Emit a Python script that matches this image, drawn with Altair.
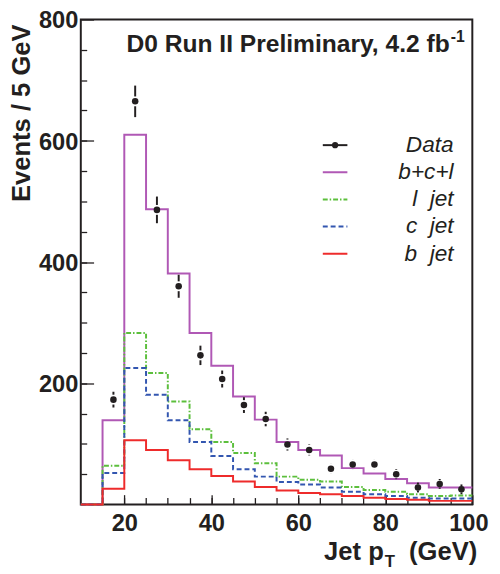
import altair as alt
import pandas as pd

# ---------------- data ----------------
bin_edges = [10, 15, 20, 25, 30, 35, 40, 45, 50, 55, 60, 65, 70, 75, 80, 85, 90, 95, 100]
bcl_vals = [0, 139, 610, 487, 381, 283, 229, 178, 140, 103, 90, 81, 60, 51, 42, 35, 28, 28]
ljet_vals = [0, 64, 283, 217, 170, 124, 103, 85, 68, 46, 41, 38, 29, 24, 21, 17, 14, 15]
cjet_vals = [0, 52, 225, 181, 139, 103, 80, 58, 46, 37, 33, 28, 21, 17, 14, 11, 10, 10]
bjet_vals = [0, 26, 106, 90, 73, 58, 47, 38, 29, 23, 19, 17, 14, 11, 9, 8, 6, 6]

data_x = [17.5, 22.5, 27.5, 32.5, 37.5, 42.5, 47.5, 52.5, 57.5, 62.5, 67.5,
          72.5, 77.5, 82.5, 87.5, 92.5, 97.5]
data_y = [173, 665, 486, 360, 246, 207, 164, 141, 99, 90, 59, 66, 66, 50, 28, 34, 25]
data_err = [13, 26, 22, 19, 16, 14, 13, 12, 10, 9, 8, 8, 8, 7, 5, 6, 5]

NB = "\u00a0"
series_names = ["b+c+l", "l jet", "c jet", "b jet"]
legend_labels = ["Data", "b+c+l", "l" + NB + " jet", "c" + NB + " jet", "b" + NB + " jet"]

x_major = [20, 40, 60, 80, 100]
x_minor = list(range(15, 100, 5))
y_major = [200, 400, 600, 800]
y_minor = list(range(50, 800, 50))

# ---------------- styles ----------------
FONT = "Liberation Sans"
INK = "#231f20"
series_colors = ["#b058b5", "#5cbf3c", "#3356b0", "#ee2b2b"]
series_dash = [[1, 0], [5, 2, 1.5, 2], [5, 3], [1, 0]]

# ---------------- tables ----------------
series_values = [bcl_vals, ljet_vals, cjet_vals, bjet_vals]
rows = []
for name, vals in zip(series_names, series_values):
    ys = list(vals) + [vals[-1]]
    for e, v in zip(bin_edges, ys):
        rows.append({"series": name, "x": e, "y": v})
hist = pd.DataFrame(rows)

pts = pd.DataFrame({
    "x": data_x,
    "y": data_y,
    "hi": [y + e for y, e in zip(data_y, data_err)],
    "lo": [y - e for y, e in zip(data_y, data_err)],
})
one = pd.DataFrame({"k": [0]})

xs = alt.Scale(domain=[10, 100], nice=False, zero=False)
ys_ = alt.Scale(domain=[0, 800], nice=False, zero=False)

# ---------------- histogram lines (with labelled axes) ----------------
hist_layer = alt.Chart(hist).mark_line(interpolate="step-after", strokeWidth=2).encode(
    x=alt.X("x:Q", scale=xs, axis=alt.Axis(
        orient="bottom", values=x_major, format="d", title=None,
        ticks=False, tickSize=0, domain=False, grid=False,
        labelFont=FONT, labelFontSize=24, labelFontWeight="bold", labelColor=INK,
        labelPadding=7, labelFlush=True, labelFlushOffset=16)),
    y=alt.Y("y:Q", scale=ys_, axis=alt.Axis(
        orient="left", values=y_major, format="d", title=None,
        ticks=False, tickSize=0, domain=False, grid=False,
        labelFont=FONT, labelFontSize=24, labelFontWeight="bold", labelColor=INK,
        labelPadding=3, labelOffset=1.5)),
    color=alt.Color("series:N", scale=alt.Scale(domain=series_names, range=series_colors), legend=None),
    strokeDash=alt.StrokeDash("series:N", scale=alt.Scale(domain=series_names, range=series_dash), legend=None),
    detail="series:N",
)

# ---------------- data points (major inward ticks) ----------------
points = alt.Chart(pts).mark_circle(size=44, color=INK, opacity=1).encode(
    x=alt.X("x:Q", scale=xs, axis=alt.Axis(
        orient="bottom", values=x_major, labels=False, domain=False, grid=False,
        title=None, ticks=True, tickSize=10, offset=-10, tickColor=INK, tickWidth=1.3)),
    y=alt.Y("y:Q", scale=ys_, axis=alt.Axis(
        orient="left", values=y_major, labels=False, domain=False, grid=False,
        title=None, ticks=True, tickSize=13, offset=-13, tickColor=INK, tickWidth=1.3)),
)

err_up = alt.Chart(pts).mark_rule(color=INK, strokeWidth=2, y2Offset=-5).encode(
    x=alt.X("x:Q", scale=xs, axis=alt.Axis(
        orient="bottom", values=x_minor, labels=False, domain=False, grid=False,
        title=None, ticks=True, tickSize=7, offset=-7, tickColor=INK, tickWidth=1.3)),
    y=alt.Y("hi:Q", scale=ys_, axis=alt.Axis(
        orient="left", values=y_minor, labels=False, domain=False, grid=False,
        title=None, ticks=True, tickSize=6, offset=-6, tickColor=INK, tickWidth=1.3)),
    y2="y:Q",
)
err_dn = alt.Chart(pts).mark_rule(color=INK, strokeWidth=2, yOffset=5).encode(
    x=alt.X("x:Q", scale=xs, axis=None),
    y=alt.Y("y:Q", scale=ys_, axis=None),
    y2="lo:Q",
)

# ---------------- legend ----------------
LEG_Y = [127.7, 155.3, 182.9, 210.5, 238.1]
LX1, LX2, LTX = 246, 271, 379
legend_layers = []
legend_layers.append(alt.Chart(one).mark_rule(color=INK, strokeWidth=2).encode(
    x=alt.value(LX1), x2=alt.value(LX2), y=alt.value(LEG_Y[0])))
legend_layers.append(alt.Chart(one).mark_circle(size=40, color=INK, opacity=1).encode(
    x=alt.value((LX1 + LX2) / 2), y=alt.value(LEG_Y[0])))
for i, (c, d) in enumerate(zip(series_colors, series_dash)):
    legend_layers.append(alt.Chart(one).mark_rule(color=c, strokeWidth=2, strokeDash=d).encode(
        x=alt.value(LX1), x2=alt.value(LX2), y=alt.value(LEG_Y[i + 1])))
for i, lab in enumerate(legend_labels):
    legend_layers.append(alt.Chart(one).mark_text(
        text=lab, align="right", baseline="middle", font=FONT, fontSize=23,
        fontStyle="italic", color=INK).encode(x=alt.value(LTX), y=alt.value(LEG_Y[i])))

# ---------------- in-plot title, axis titles ----------------
title_main = alt.Chart(one).mark_text(
    text="D0 Run II Preliminary, 4.2 fb", align="right", baseline="alphabetic",
    font=FONT, fontSize=25, fontWeight="bold", color=INK).encode(
    x=alt.value(375), y=alt.value(33))
title_sup = alt.Chart(one).mark_text(
    text="-1", align="left", baseline="alphabetic",
    font=FONT, fontSize=16, fontWeight="bold", color=INK).encode(
    x=alt.value(376), y=alt.value(23))

ytitle = alt.Chart(one).mark_text(
    text="Events / 5 GeV", angle=270, align="right", baseline="middle",
    font=FONT, fontSize=26, fontWeight="bold", color=INK).encode(
    x=alt.value(-60), y=alt.value(5))

xt1 = alt.Chart(one).mark_text(
    text="Jet p", align="right", baseline="alphabetic",
    font=FONT, fontSize=26, fontWeight="bold", color=INK).encode(
    x=alt.value(308), y=alt.value(549))
xt2 = alt.Chart(one).mark_text(
    text="T", align="left", baseline="alphabetic",
    font=FONT, fontSize=17, fontWeight="bold", color=INK).encode(
    x=alt.value(309), y=alt.value(557))
xt3 = alt.Chart(one).mark_text(
    text="(GeV)", align="right", baseline="alphabetic",
    font=FONT, fontSize=26, fontWeight="bold", color=INK).encode(
    x=alt.value(403), y=alt.value(549))

chart = alt.layer(
    hist_layer, err_up, err_dn, points, *legend_layers,
    title_main, title_sup, ytitle, xt1, xt2, xt3,
).resolve_axis(
    x="independent", y="independent"
).properties(
    width=398, height=493,
    autosize=alt.AutoSizeParams(type="none"),
    padding={"left": 74, "top": 7, "right": 20, "bottom": 70},
    background="white",
).configure_view(
    stroke=INK, strokeWidth=2
).configure_axis(grid=False)

chart.save("out.html", embed_options={"renderer": "svg", "actions": False})
